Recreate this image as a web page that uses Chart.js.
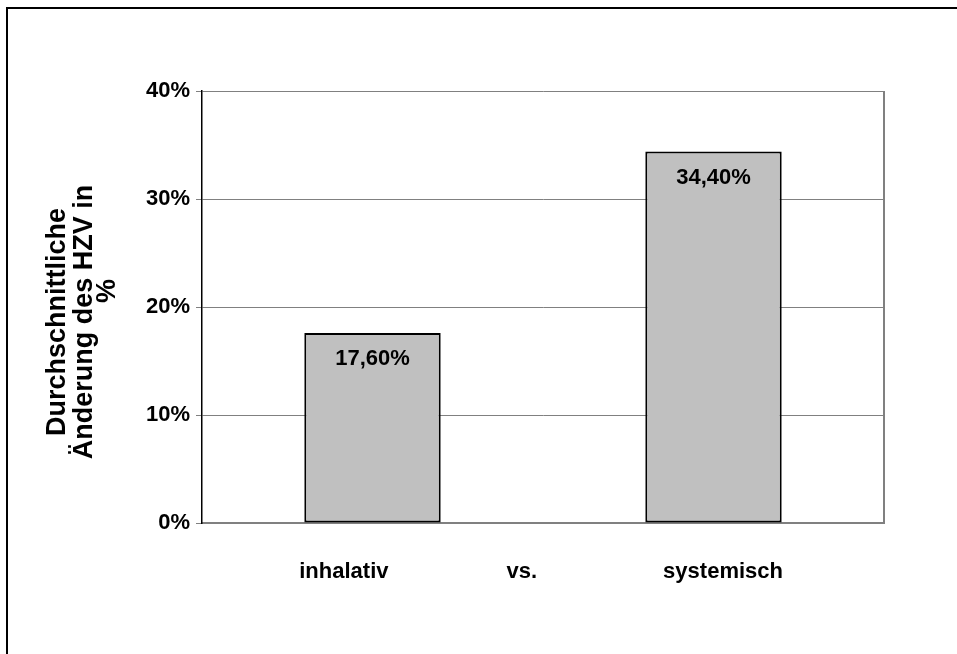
<!DOCTYPE html>
<html>
<head>
<meta charset="utf-8">
<script src="https://cdn.jsdelivr.net/npm/chart.js@4"></script>
<style>
  html, body { margin: 0; padding: 0; background: #fff; }
  canvas { display: block; }
</style>
</head>
<body>
<canvas id="hzvChart" width="957" height="654"></canvas>
<script>
const categories = ["inhalativ", "systemisch"];
const changeValues = [0.176, 0.344];
const axisWords = ["inhalativ", "vs.", "systemisch"];
const titleLines = ["Durchschnittliche", "Änderung des HZV in", "%"];

const FAMILY = "'Liberation Sans', Arial, sans-serif";
const FONT = "bold 22px " + FAMILY;

const fmtPct = (v, digits) => (v * 100).toFixed(digits).replace(".", ",") + "%";

// frame, right border, titles, value labels, category words
const extras = {
  id: "extras",
  beforeDraw(chart) {
    const ctx = chart.ctx;
    ctx.save();
    ctx.fillStyle = "#000";
    ctx.fillRect(6, 7, 2, 660);
    ctx.fillRect(6, 7, 960, 2);
    ctx.restore();
  },
  afterDraw(chart) {
    const ctx = chart.ctx;
    const area = chart.chartArea;
    ctx.save();

    // right border of the plot area
    ctx.strokeStyle = "#808080";
    ctx.lineWidth = 2;
    ctx.beginPath();
    ctx.moveTo(area.right, area.top);
    ctx.lineTo(area.right, area.bottom);
    ctx.stroke();

    ctx.fillStyle = "#000";
    ctx.font = FONT;
    ctx.textAlign = "center";
    ctx.textBaseline = "middle";

    // value labels inside the bars
    const meta = chart.getDatasetMeta(0);
    meta.data.forEach((bar, i) => {
      ctx.fillText(fmtPct(changeValues[i], 2), bar.x, bar.y + 26);
    });

    // words under the axis
    const w = area.right - area.left;
    const spots = [0.208, 0.469, 0.764];
    axisWords.forEach((t, i) => {
      ctx.fillText(t, area.left + w * spots[i], area.bottom + 49);
    });

    // rotated y title
    const ys = [322, 322, 291];
    const xs = [58, 85, 108];
    ctx.font = "bold 27px " + FAMILY;
    titleLines.forEach((t, i) => {
      ctx.save();
      ctx.translate(xs[i], ys[i]);
      ctx.rotate(-Math.PI / 2);
      ctx.fillText(t, 0, 0);
      ctx.restore();
    });
    ctx.restore();
  }
};

new Chart(document.getElementById("hzvChart").getContext("2d"), {
  type: "bar",
  data: {
    labels: categories,
    datasets: [
      {
        data: changeValues,
        backgroundColor: "#C0C0C0",
        borderColor: "#000",
        borderWidth: 2,
        borderSkipped: false,
        categoryPercentage: 1,
        barPercentage: 0.4,
      },
    ],
  },
  options: {
    responsive: false,
    animation: false,
    layout: { padding: { left: 0, top: 91, right: 73, bottom: 0 } },
    plugins: {
      legend: { display: false },
      tooltip: { enabled: false },
    },
    scales: {
      x: {
        grid: { display: false },
        border: { color: "#808080", width: 2 },
        ticks: { display: false },
        afterFit: (scale) => { scale.height = 131; },
      },
      y: {
        min: 0,
        max: 0.4,
        ticks: {
          stepSize: 0.1,
          color: "#000",
          padding: 6,
          font: { family: FAMILY, size: 22, weight: "bold" },
          callback: (v) => fmtPct(v, 0),
        },
        grid: { color: "#808080", lineWidth: 1, tickLength: 6 },
        border: { color: "#000", width: 1.5 },
        afterFit: (scale) => { scale.width = 202; },
      },
    },
  },
  plugins: [extras],
});
</script>
</body>
</html>
